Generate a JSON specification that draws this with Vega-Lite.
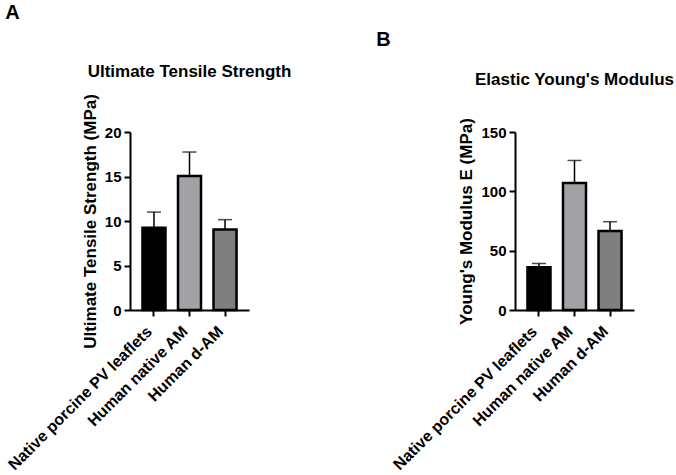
{
  "$schema": "https://vega.github.io/schema/vega-lite/v6.json",
  "background": "white",
  "padding": {"left": 5, "top": 2, "right": 0, "bottom": 0},
  "datasets": {
    "uts": [
      {"group": "Native porcine PV leaflets", "value": 9.25, "upper": 11.0},
      {"group": "Human native AM", "value": 15.05, "upper": 17.75},
      {"group": "Human d-AM", "value": 9.05, "upper": 10.15}
    ],
    "youngs": [
      {"group": "Native porcine PV leaflets", "value": 36.1, "upper": 39.2},
      {"group": "Human native AM", "value": 107.1, "upper": 126.0},
      {"group": "Human d-AM", "value": 66.5, "upper": 74.4}
    ]
  },
  "bounds": "flush",
  "spacing": 385,
  "hconcat": [
    {
      "title": {"text": "A", "anchor": "start", "frame": "bounds", "offset": 40, "dx": 0, "fontSize": 20},
      "bounds": "flush",
      "vconcat": [
        {
          "width": 119,
          "height": 178,
          "title": {"text": "Ultimate Tensile Strength", "anchor": "middle", "frame": "group", "offset": 13, "fontSize": 17},
          "data": {"name": "uts"},
          "layer": [
            {
              "mark": {"type": "bar", "stroke": "#000000", "strokeWidth": 2.5},
              "encoding": {
                "x": {"field": "group", "type": "nominal", "sort": null,
                      "scale": {"paddingInner": 0.352, "paddingOuter": 0.351},
                      "axis": {"title": null, "labelAngle": -45, "labelFontSize": 16, "labelPadding": 7, "labelOffset": -10, "labelLimit": 400}},
                "y": {"field": "value", "type": "quantitative", "scale": {"domain": [0, 20], "nice": false},
                      "axis": {"title": "Ultimate Tensile Strength (MPa)", "values": [0, 5, 10, 15, 20], "labelFontSize": 15, "titleFontSize": 17, "labelPadding": 3, "titlePadding": 5}},
                "fill": {"field": "group", "type": "nominal", "sort": null,
                         "scale": {"range": ["#000000", "#a2a2a6", "#7f7f7f"]}, "legend": null}
              }
            },
            {
              "mark": {"type": "rule", "color": "#000000", "strokeWidth": 1.5},
              "encoding": {
                "x": {"field": "group", "type": "nominal", "sort": null},
                "y": {"field": "value", "type": "quantitative"},
                "y2": {"field": "upper"}
              }
            },
            {
              "mark": {"type": "tick", "color": "#000000", "thickness": 1.5, "size": 14},
              "encoding": {
                "x": {"field": "group", "type": "nominal", "sort": null},
                "y": {"field": "upper", "type": "quantitative"}
              }
            }
          ]
        }
      ]
    },
    {
      "title": {"text": "B", "anchor": "start", "frame": "bounds", "offset": 21, "dx": -14, "fontSize": 20},
      "bounds": "flush",
      "vconcat": [
        {
          "width": 119,
          "height": 178,
          "title": {"text": "Elastic Young's Modulus", "anchor": "middle", "frame": "group", "offset": 29, "fontSize": 17},
          "data": {"name": "youngs"},
          "layer": [
            {
              "mark": {"type": "bar", "stroke": "#000000", "strokeWidth": 2.5},
              "encoding": {
                "x": {"field": "group", "type": "nominal", "sort": null,
                      "scale": {"paddingInner": 0.352, "paddingOuter": 0.351},
                      "axis": {"title": null, "labelAngle": -45, "labelFontSize": 16, "labelPadding": 7, "labelOffset": -10, "labelLimit": 400}},
                "y": {"field": "value", "type": "quantitative", "scale": {"domain": [0, 150], "nice": false},
                      "axis": {"title": "Young's Modulus E (MPa)", "values": [0, 50, 100, 150], "labelFontSize": 15, "titleFontSize": 17, "labelPadding": 3, "titlePadding": 5}},
                "fill": {"field": "group", "type": "nominal", "sort": null,
                         "scale": {"range": ["#000000", "#a2a2a6", "#7f7f7f"]}, "legend": null}
              }
            },
            {
              "mark": {"type": "rule", "color": "#000000", "strokeWidth": 1.5},
              "encoding": {
                "x": {"field": "group", "type": "nominal", "sort": null},
                "y": {"field": "value", "type": "quantitative"},
                "y2": {"field": "upper"}
              }
            },
            {
              "mark": {"type": "tick", "color": "#000000", "thickness": 1.5, "size": 14},
              "encoding": {
                "x": {"field": "group", "type": "nominal", "sort": null},
                "y": {"field": "upper", "type": "quantitative"}
              }
            }
          ]
        }
      ]
    }
  ],
  "config": {
    "font": "Liberation Sans",
    "view": {"stroke": null},
    "title": {"fontWeight": "bold", "color": "#000000", "font": "Liberation Sans"},
    "axis": {
      "grid": false,
      "domainColor": "#000000",
      "domainWidth": 2,
      "tickColor": "#000000",
      "tickWidth": 2,
      "tickSize": 6,
      "labelColor": "#000000",
      "labelFont": "Liberation Sans",
      "labelFontWeight": "bold",
      "titleFont": "Liberation Sans",
      "titleFontWeight": "bold",
      "titleColor": "#000000"
    }
  }
}
